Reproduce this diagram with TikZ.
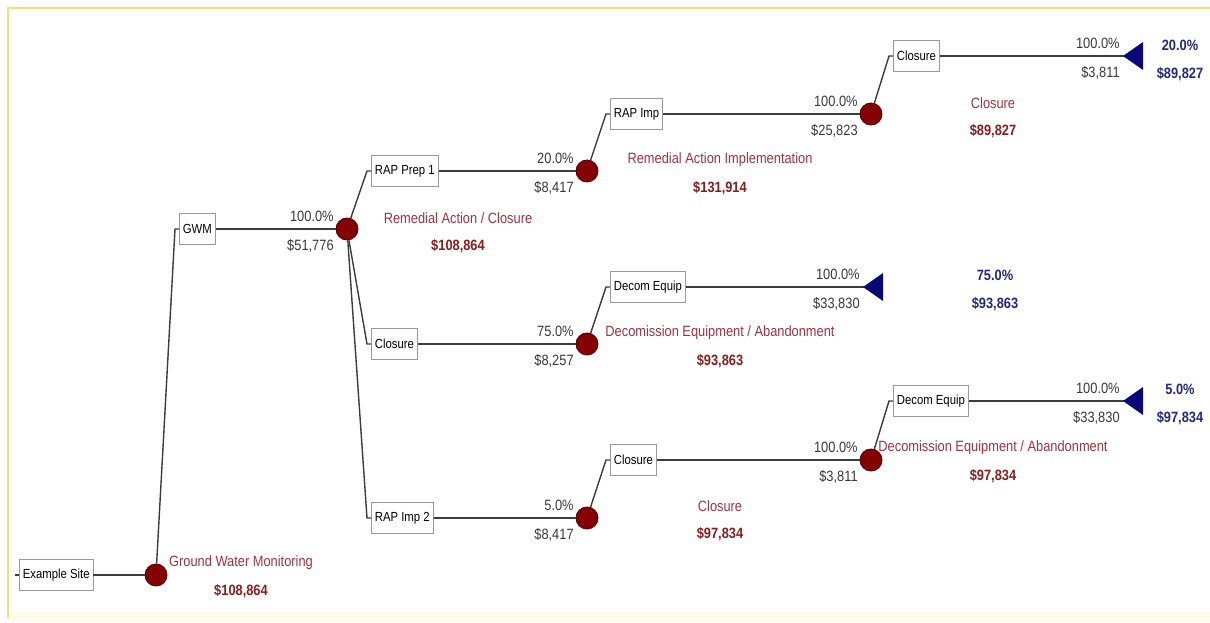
\documentclass[tikz,border=0pt]{standalone}
\usepackage{fontspec}
\usepackage{tikz}
\usetikzlibrary{positioning,calc}
\newfontfamily\treefont[FakeStretch=0.86]{Liberation Sans}
\definecolor{chance}{HTML}{850000}
\definecolor{chanceline}{HTML}{5A0000}
\definecolor{rname}{HTML}{A0323C}
\definecolor{rval}{HTML}{8A1C1C}
\definecolor{bval}{HTML}{23287E}
\definecolor{term}{HTML}{080878}
\definecolor{wire}{HTML}{3C3C3C}
\definecolor{frame}{HTML}{EFE07A}
\definecolor{cream}{HTML}{FFFBEC}
\newcommand{\tf}{\treefont\fontsize{8.5}{10}\selectfont}
\newcommand{\tfb}{\treefont\fontsize{8.5}{10}\selectfont\bfseries}

\begin{document}
\begin{tikzpicture}[x=0.02cm,y=-0.02cm,font=\tf,
 box/.style={draw=gray!80,fill=white,anchor=west,inner xsep=2pt,inner ysep=0pt,
  minimum height=0.62cm,font=\treefont\fontsize{7.5}{9}\selectfont},
 chance/.style={circle,fill=chance,draw=chanceline,line width=.5pt,minimum size=0.44cm,inner sep=0pt},
 wire/.style={draw=wire,line width=1.1pt},
 arm/.style={draw=wire,line width=.8pt},
 pct/.style={text=black!78,anchor=east,inner sep=0pt}]
\useasboundingbox (0,0) rectangle (1210,622);
\fill[cream] (8,612) rectangle (1210,622);
\draw[frame,line width=1.5pt] (8,618) -- (8,8) -- (1210,8);

% decision boxes
\node[box] (site) at (19,575) {Example Site};
\node[box] (gwm) at (179,229) {GWM};
\node[box] (prep) at (371,171) {RAP Prep 1};
\node[box] (clo) at (371,344) {Closure};
\node[box] (imp2) at (371,518) {RAP Imp 2};
\node[box] (imp) at (610,114) {RAP Imp};
\node[box] (decA) at (610,287) {Decom Equip};
\node[box] (cloB) at (610,460) {Closure};
\node[box] (cloT) at (893,56) {Closure};
\node[box] (decB) at (893,401) {Decom Equip};

% chance nodes and end points
\node[chance] (gw) at (156,575) {};
\node[chance] (rac) at (347,229) {};
\node[chance] (rai) at (587,171) {};
\node[chance] (dea) at (587,344) {};
\node[chance] (clb) at (587,518) {};
\node[chance] (clt) at (871,114) {};
\node[chance] (deb) at (871,460) {};
\coordinate (endA) at (1133,56);
\coordinate (endB) at (873,287);
\coordinate (endC) at (1133,401);

\draw[arm] (site.west) -- ++(-4,0);
\draw[wire] (site) -- (gw);
\foreach \a/\b in {gw/gwm,rac/prep,rac/clo,rac/imp2,rai/imp,dea/decA,clb/cloB,clt/cloT,deb/decB}
 \draw[arm] (\a) -- ($(\b.west)+(-4,0)$) -- (\b.west);
\foreach \a/\b in {gwm/rac,prep/rai,clo/dea,imp2/clb,imp/clt,cloB/deb,decA/endB,cloT/endA,decB/endC}
 \draw[wire] (\a.east) -- (\b);
\foreach \t in {endA,endB,endC}
 \fill[term] (\t) ++(-10,0) -- ++(20,-14) -- ++(0,28) -- cycle;

% probability / cost on each branch
\foreach \e/\p/\v in {rac/100.0/{51,776},rai/20.0/{8,417},dea/75.0/{8,257},clb/5.0/{8,417},
 clt/100.0/{25,823},endB/100.0/{33,830},deb/100.0/{3,811},endA/100.0/{3,811},endC/100.0/{33,830}}{
 \node[pct] at ($(\e)+(-13,-13)$) {\p\%};
 \node[pct] at ($(\e)+(-13,16.5)$) {\$\v};
}

% chance node titles
\foreach \x/\y/\n/\v in {241/563/Ground Water Monitoring/{108,864},458/218/{Remedial Action / Closure}/{108,864},
 720/160/Remedial Action Implementation/{131,914},720/333/{Decomission Equipment / Abandonment}/{93,863},
 720/506/Closure/{97,834},993/103/Closure/{89,827},993/448/{Decomission Equipment / Abandonment}/{97,834}}{
 \node[text=rname,inner sep=0pt] at (\x,\y) {\n};
 \node[text=rval,font=\tfb,inner sep=0pt] at (\x,\y+28) {\$\v};
}
\foreach \x/\y/\p/\v in {1180/45/20.0/{89,827},995/275/75.0/{93,863},1180/389/5.0/{97,834}}{
 \node[text=bval,font=\tfb,inner sep=0pt] at (\x,\y) {\p\%};
 \node[text=bval,font=\tfb,inner sep=0pt] at (\x,\y+29) {\$\v};
}
\end{tikzpicture}
\end{document}
